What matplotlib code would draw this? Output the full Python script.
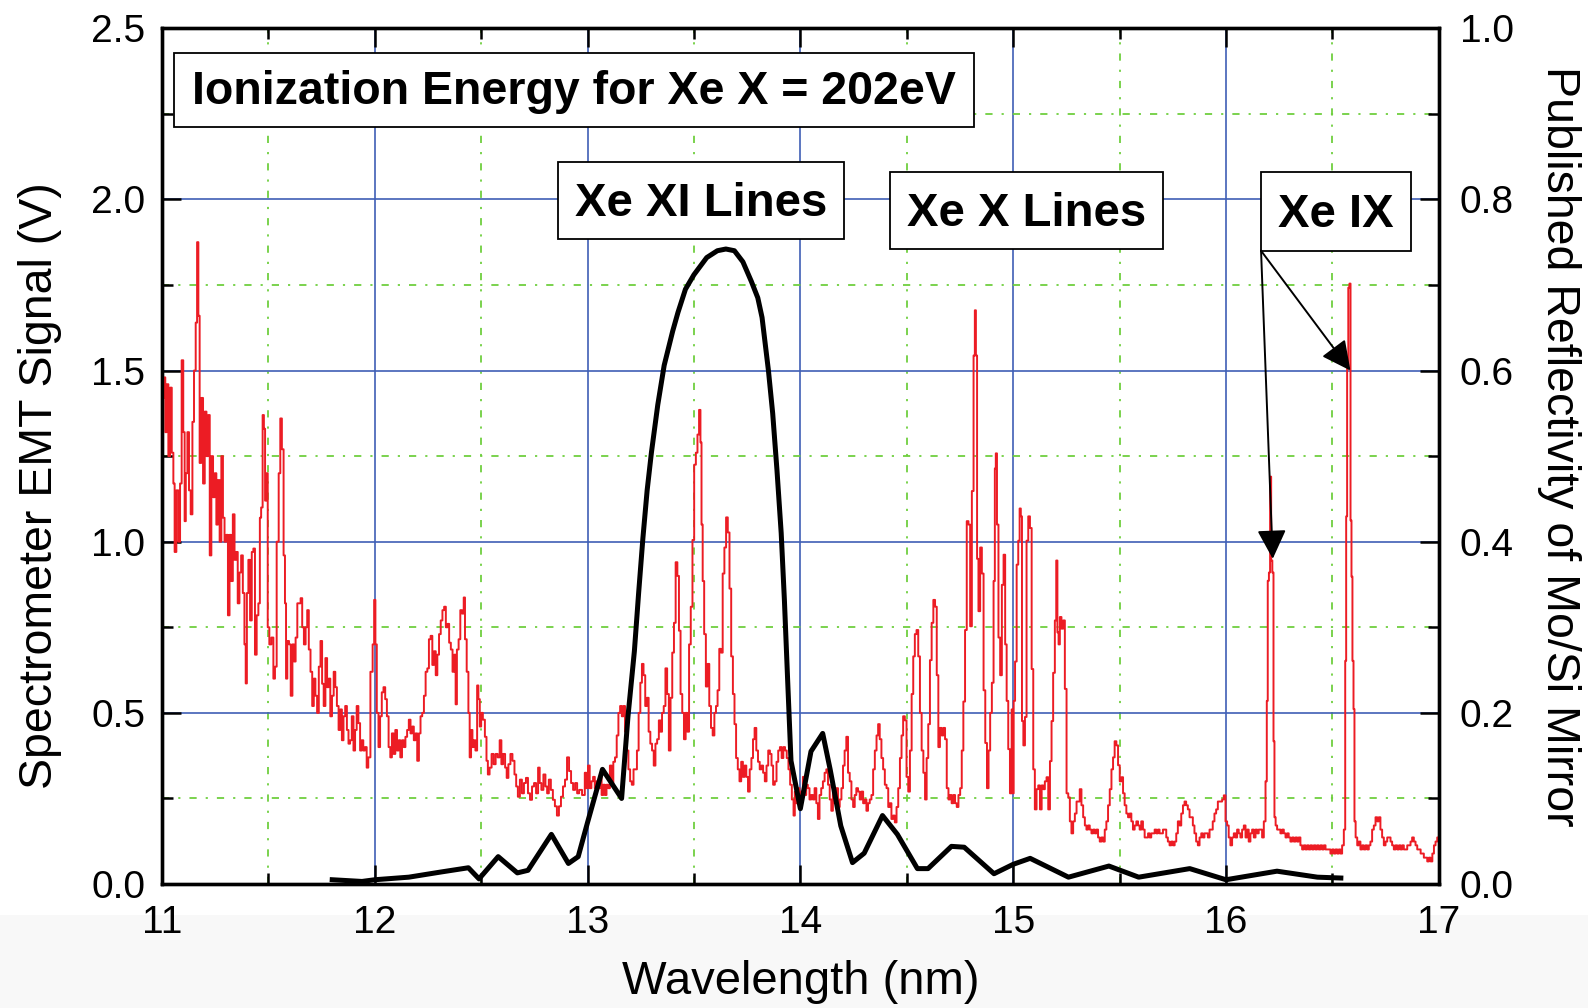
# plot.py
# EMT spectrometer signal of a xenon plasma (red, left axis) together with the
# published reflectivity of a Mo/Si mirror (black, right axis)

import numpy as np
import matplotlib.pyplot as plt
from matplotlib.patches import Rectangle

plt.rcParams['font.family'] = ['Liberation Sans Narrow', 'Liberation Sans', 'DejaVu Sans']

# ---- data ----
# spectrometer signal (V) against wavelength (nm)
red_wl = [
    11.000, 11.006, 11.012, 11.019, 11.026, 11.034, 11.042, 11.050, 11.057, 11.062, 11.073, 11.081, 11.089, 11.096,
    11.104, 11.109, 11.115, 11.124, 11.130, 11.140, 11.146, 11.155, 11.162, 11.168, 11.174, 11.180, 11.189, 11.197,
    11.205, 11.213, 11.221, 11.228, 11.236, 11.244, 11.252, 11.259, 11.267, 11.275, 11.283, 11.290, 11.298, 11.306,
    11.314, 11.321, 11.329, 11.337, 11.345, 11.352, 11.360, 11.368, 11.376, 11.384, 11.391, 11.396, 11.402, 11.410,
    11.418, 11.426, 11.433, 11.441, 11.449, 11.457, 11.463, 11.469, 11.477, 11.481, 11.488, 11.494, 11.500, 11.509,
    11.519, 11.528, 11.534, 11.544, 11.553, 11.559, 11.568, 11.575, 11.581, 11.585, 11.593, 11.601, 11.609, 11.617,
    11.624, 11.632, 11.640, 11.648, 11.655, 11.663, 11.671, 11.679, 11.686, 11.694, 11.702, 11.710, 11.717, 11.725,
    11.733, 11.741, 11.749, 11.756, 11.764, 11.772, 11.780, 11.787, 11.795, 11.803, 11.811, 11.818, 11.826, 11.834,
    11.842, 11.849, 11.857, 11.865, 11.873, 11.880, 11.888, 11.896, 11.904, 11.911, 11.919, 11.927, 11.935, 11.942,
    11.950, 11.958, 11.966, 11.973,
    11.986, 11.994, 12.000, 12.006, 12.013, 12.022, 12.028, 12.038, 12.044, 12.054, 12.060, 12.070, 12.076, 12.085,
    12.092, 12.101, 12.108, 12.117, 12.123, 12.133, 12.139, 12.149, 12.155, 12.165, 12.171, 12.180, 12.187, 12.196,
    12.203, 12.212, 12.218, 12.228, 12.234, 12.244, 12.250, 12.259, 12.266, 12.275, 12.282, 12.291, 12.297, 12.307,
    12.313, 12.323, 12.329, 12.339, 12.345, 12.354, 12.361, 12.370, 12.377, 12.383, 12.389, 12.399, 12.405, 12.415,
    12.421, 12.427, 12.437, 12.443, 12.449, 12.456, 12.462, 12.468, 12.478, 12.484, 12.490, 12.497, 12.503, 12.513,
    12.522, 12.528, 12.535, 12.544, 12.554, 12.563, 12.573, 12.582, 12.592, 12.598, 12.608, 12.617, 12.623, 12.633,
    12.642, 12.652, 12.661, 12.668, 12.677, 12.687, 12.696, 12.706, 12.715, 12.725, 12.734, 12.744, 12.753, 12.763,
    12.772, 12.778, 12.788, 12.797, 12.807, 12.813, 12.823, 12.832, 12.842, 12.851, 12.861, 12.870, 12.880, 12.889,
    12.899, 12.908, 12.918, 12.927, 12.937, 12.946, 12.956, 12.965,
    12.983, 12.991, 12.998, 13.006, 13.014, 13.022, 13.030, 13.038, 13.046, 13.054, 13.062, 13.070, 13.078, 13.085,
    13.093, 13.101, 13.109, 13.117, 13.125, 13.133, 13.141, 13.149, 13.157, 13.165, 13.172, 13.180, 13.188, 13.196,
    13.204, 13.212, 13.220, 13.228, 13.236, 13.244, 13.252, 13.259, 13.267, 13.275, 13.283, 13.291, 13.299, 13.307,
    13.315, 13.323, 13.331, 13.339, 13.346, 13.354, 13.362, 13.370, 13.378, 13.386, 13.394, 13.402, 13.410, 13.418,
    13.426, 13.433, 13.441, 13.449, 13.457, 13.465, 13.473, 13.481, 13.489, 13.497, 13.505, 13.513, 13.520, 13.528,
    13.533, 13.538, 13.544, 13.552, 13.560, 13.568, 13.576, 13.584, 13.592, 13.600, 13.607, 13.615, 13.623, 13.631,
    13.639, 13.647, 13.655, 13.663, 13.671, 13.679, 13.687, 13.694, 13.702, 13.710, 13.718, 13.726, 13.734, 13.742,
    13.750, 13.758, 13.766, 13.774, 13.781, 13.789, 13.797, 13.805, 13.813, 13.821, 13.829, 13.837, 13.845, 13.853,
    13.861, 13.868, 13.876, 13.884, 13.892, 13.900, 13.908, 13.916, 13.924, 13.932, 13.940, 13.948, 13.956, 13.964,
    13.972,
    13.976, 13.984, 13.992, 14.000, 14.008, 14.016, 14.024, 14.031, 14.039, 14.047, 14.055, 14.063, 14.071, 14.079,
    14.086, 14.094, 14.102, 14.110, 14.118, 14.126, 14.134, 14.142, 14.149, 14.157, 14.165, 14.173, 14.181, 14.189,
    14.197, 14.204, 14.212, 14.220, 14.228, 14.236, 14.244, 14.252, 14.259, 14.267, 14.275, 14.283, 14.291, 14.299,
    14.307, 14.314, 14.322, 14.330, 14.338, 14.346, 14.354, 14.362, 14.369, 14.377, 14.385, 14.393, 14.401, 14.409,
    14.417, 14.424, 14.432, 14.440, 14.448, 14.456, 14.464, 14.472, 14.479, 14.487, 14.495, 14.503, 14.511, 14.519,
    14.527, 14.534, 14.542, 14.550, 14.558, 14.566, 14.574, 14.582, 14.590, 14.597, 14.605, 14.613, 14.621, 14.629,
    14.637, 14.645, 14.652, 14.660, 14.668, 14.676, 14.684, 14.692, 14.700, 14.707, 14.715, 14.723, 14.731, 14.739,
    14.747, 14.755, 14.762, 14.770, 14.778, 14.786, 14.794, 14.802, 14.810, 14.818, 14.822, 14.828, 14.833, 14.841,
    14.849, 14.857, 14.865, 14.873, 14.881, 14.888, 14.896, 14.904, 14.912, 14.916, 14.921, 14.927, 14.935, 14.943,
    14.951, 14.959,
    14.966, 14.973, 14.981, 14.989, 14.997, 15.000, 15.005, 15.013, 15.020, 15.028, 15.033, 15.039, 15.044, 15.052,
    15.059, 15.067, 15.075, 15.083, 15.091, 15.098, 15.106, 15.114, 15.122, 15.130, 15.138, 15.145, 15.153, 15.161,
    15.169, 15.177, 15.184, 15.192, 15.200, 15.205, 15.211, 15.216, 15.223, 15.231, 15.239, 15.247, 15.255, 15.263,
    15.270, 15.278, 15.286, 15.294, 15.302, 15.309, 15.317, 15.325, 15.333, 15.341, 15.348, 15.356, 15.364, 15.372,
    15.380, 15.388, 15.395, 15.403, 15.411, 15.419, 15.427, 15.434, 15.442, 15.450, 15.458, 15.466, 15.473, 15.481,
    15.489, 15.497, 15.505, 15.513, 15.520, 15.528, 15.536, 15.544, 15.552, 15.559, 15.567, 15.575, 15.583, 15.591,
    15.598, 15.606, 15.614, 15.622, 15.630, 15.638, 15.645, 15.653, 15.661, 15.669, 15.677, 15.684, 15.692, 15.700,
    15.708, 15.716, 15.723, 15.731, 15.739, 15.747, 15.755, 15.763, 15.770, 15.778, 15.786, 15.794, 15.802, 15.809,
    15.817, 15.825, 15.833, 15.841, 15.848, 15.856, 15.864, 15.872, 15.880, 15.888, 15.895, 15.903, 15.911, 15.919,
    15.927, 15.934, 15.942, 15.950, 15.958, 15.966,
    15.978, 15.986, 15.994, 16.002, 16.009, 16.017, 16.025, 16.033, 16.041, 16.049, 16.056, 16.064, 16.072, 16.080,
    16.088, 16.096, 16.103, 16.111, 16.119, 16.127, 16.135, 16.143, 16.150, 16.158, 16.166, 16.174, 16.182, 16.190,
    16.194, 16.199, 16.205, 16.210, 16.215, 16.221, 16.226, 16.230, 16.237, 16.244, 16.252, 16.260, 16.268, 16.276,
    16.284, 16.291, 16.299, 16.307, 16.315, 16.323, 16.331, 16.338, 16.346, 16.354, 16.362, 16.370, 16.378, 16.385,
    16.393, 16.401, 16.409, 16.417, 16.425, 16.432, 16.440, 16.448, 16.456, 16.464, 16.472, 16.480, 16.487, 16.495,
    16.503, 16.511, 16.519, 16.527, 16.534, 16.542, 16.550, 16.558, 16.563, 16.567, 16.572, 16.578, 16.583, 16.588,
    16.592, 16.597, 16.602, 16.606, 16.613, 16.621, 16.628, 16.636, 16.644, 16.652, 16.660, 16.668, 16.675, 16.683,
    16.691, 16.699, 16.707, 16.715, 16.722, 16.730, 16.738, 16.746, 16.754, 16.762, 16.770, 16.777, 16.785, 16.793,
    16.801, 16.809, 16.817, 16.824, 16.832, 16.840, 16.848, 16.856, 16.864, 16.871, 16.879, 16.887, 16.895, 16.903,
    16.911, 16.919, 16.926, 16.934, 16.942, 16.950, 16.958, 16.966, 16.974, 16.981, 16.989, 16.997,
]
red_sig = [
    1.65, 1.42, 1.48, 1.32, 1.46, 1.25, 1.45, 1.26, 1.17, 0.97, 1.15, 1.00, 1.17, 1.53,
    1.32, 1.06, 1.20, 1.32, 1.15, 1.08, 1.35, 1.50, 1.64, 1.875, 1.66, 1.23, 1.42, 1.17,
    1.38, 1.25, 1.37, 0.96, 1.25, 1.13, 1.20, 1.05, 1.18, 1.00, 1.25, 1.07, 1.00, 1.02,
    0.785, 1.02, 0.885, 1.08, 0.947, 0.97, 0.82, 0.91, 0.96, 0.85, 0.70, 0.586, 0.85, 0.947,
    0.77, 0.97, 0.98, 0.67, 0.785, 0.82, 1.07, 1.10, 1.37, 1.33, 1.12, 1.20, 0.75, 0.70,
    0.72, 0.60, 0.635, 1.00, 1.20, 1.36, 1.27, 0.96, 0.82, 0.60, 0.71, 0.70, 0.55, 0.70,
    0.65, 0.72, 0.82, 0.82, 0.835, 0.75, 0.70, 0.75, 0.80, 0.685, 0.62, 0.52, 0.60, 0.55,
    0.50, 0.635, 0.71, 0.585, 0.52, 0.66, 0.575, 0.60, 0.49, 0.55, 0.62, 0.575, 0.52, 0.45,
    0.51, 0.42, 0.49, 0.52, 0.45, 0.41, 0.42, 0.49, 0.39, 0.45, 0.52, 0.47, 0.39, 0.42,
    0.39, 0.40, 0.34, 0.37,
    0.62, 0.70, 0.83, 0.70, 0.50, 0.40, 0.49, 0.56, 0.575, 0.54, 0.49, 0.40, 0.37, 0.44,
    0.38, 0.45, 0.39, 0.42, 0.37, 0.42, 0.40, 0.43, 0.45, 0.48, 0.44, 0.46, 0.42, 0.44,
    0.36, 0.44, 0.49, 0.50, 0.55, 0.62, 0.63, 0.715, 0.725, 0.64, 0.68, 0.61, 0.67, 0.73,
    0.77, 0.80, 0.81, 0.75, 0.76, 0.705, 0.685, 0.62, 0.67, 0.525, 0.685, 0.715, 0.80, 0.79,
    0.837, 0.715, 0.62, 0.50, 0.37, 0.45, 0.40, 0.42, 0.39, 0.58, 0.54, 0.46, 0.50, 0.48,
    0.43, 0.36, 0.32, 0.34, 0.38, 0.35, 0.38, 0.37, 0.42, 0.35, 0.38, 0.34, 0.31, 0.35,
    0.38, 0.36, 0.32, 0.285, 0.255, 0.305, 0.265, 0.295, 0.31, 0.265, 0.246, 0.285, 0.295, 0.265,
    0.34, 0.295, 0.275, 0.32, 0.285, 0.265, 0.305, 0.275, 0.246, 0.227, 0.20, 0.227, 0.255, 0.285,
    0.305, 0.37, 0.33, 0.295, 0.275, 0.295, 0.265, 0.275,
    0.26, 0.325, 0.28, 0.346, 0.28, 0.30, 0.313, 0.28, 0.30, 0.28, 0.313, 0.26, 0.29, 0.26,
    0.29, 0.28, 0.346, 0.29, 0.357, 0.37, 0.434, 0.50, 0.52, 0.49, 0.52, 0.445, 0.39, 0.335,
    0.30, 0.29, 0.335, 0.335, 0.39, 0.50, 0.588, 0.643, 0.61, 0.52, 0.544, 0.445, 0.41, 0.39,
    0.346, 0.41, 0.423, 0.478, 0.445, 0.50, 0.52, 0.63, 0.555, 0.39, 0.544, 0.676, 0.763, 0.94,
    0.90, 0.74, 0.555, 0.50, 0.423, 0.50, 0.445, 0.70, 0.81, 1.005, 1.225, 1.26, 1.313, 1.385,
    1.29, 1.05, 0.885, 0.73, 0.577, 0.643, 0.52, 0.456, 0.434, 0.50, 0.52, 0.566, 0.687, 0.676,
    0.907, 0.983, 1.071, 1.027, 0.863, 0.665, 0.555, 0.467, 0.368, 0.335, 0.30, 0.357, 0.313, 0.346,
    0.313, 0.27, 0.335, 0.368, 0.423, 0.456, 0.39, 0.357, 0.335, 0.346, 0.325, 0.30, 0.346, 0.39,
    0.38, 0.346, 0.29, 0.30, 0.357, 0.39, 0.40, 0.368, 0.40, 0.39, 0.368, 0.335, 0.29, 0.247,
    0.20,
    0.27, 0.236, 0.28, 0.225, 0.27, 0.313, 0.26, 0.29, 0.28, 0.247, 0.26, 0.247, 0.28, 0.236,
    0.19, 0.26, 0.28, 0.30, 0.325, 0.335, 0.29, 0.247, 0.214, 0.27, 0.236, 0.28, 0.225, 0.247,
    0.28, 0.346, 0.39, 0.43, 0.325, 0.30, 0.247, 0.225, 0.26, 0.28, 0.27, 0.247, 0.27, 0.236,
    0.247, 0.214, 0.236, 0.247, 0.26, 0.335, 0.39, 0.434, 0.467, 0.423, 0.368, 0.335, 0.29, 0.28,
    0.225, 0.236, 0.19, 0.20, 0.18, 0.225, 0.28, 0.368, 0.434, 0.49, 0.478, 0.313, 0.27, 0.39,
    0.555, 0.665, 0.73, 0.742, 0.665, 0.50, 0.39, 0.325, 0.247, 0.368, 0.467, 0.654, 0.763, 0.83,
    0.81, 0.61, 0.40, 0.456, 0.434, 0.456, 0.423, 0.28, 0.247, 0.26, 0.236, 0.26, 0.236, 0.225,
    0.26, 0.28, 0.39, 0.533, 0.742, 1.06, 1.05, 0.753, 1.148, 1.544, 1.676, 1.544, 0.95, 0.797,
    0.983, 0.907, 0.566, 0.412, 0.28, 0.39, 0.50, 0.588, 0.885, 1.214, 1.258, 1.05, 0.72, 0.61,
    0.874, 0.962,
    0.70, 0.535, 0.394, 0.265, 0.51, 0.265, 0.535, 0.65, 0.933, 1.003, 1.097, 1.074, 0.476, 0.405,
    0.488, 1.003, 1.074, 1.04, 0.628, 0.335, 0.218, 0.277, 0.288, 0.218, 0.288, 0.277, 0.30, 0.312,
    0.218, 0.359, 0.476, 0.617, 0.77, 0.945, 0.735, 0.70, 0.78, 0.746, 0.77, 0.57, 0.265, 0.253,
    0.183, 0.148, 0.183, 0.206, 0.241, 0.241, 0.277, 0.23, 0.195, 0.171, 0.159, 0.171, 0.159, 0.148,
    0.159, 0.148, 0.159, 0.136, 0.124, 0.136, 0.124, 0.159, 0.183, 0.23, 0.277, 0.335, 0.37, 0.417,
    0.405, 0.347, 0.30, 0.312, 0.265, 0.23, 0.206, 0.195, 0.206, 0.183, 0.159, 0.171, 0.183, 0.171,
    0.159, 0.183, 0.159, 0.136, 0.136, 0.148, 0.136, 0.148, 0.148, 0.159, 0.148, 0.159, 0.148, 0.148,
    0.159, 0.159, 0.136, 0.124, 0.113, 0.124, 0.113, 0.124, 0.148, 0.183, 0.171, 0.206, 0.23, 0.241,
    0.23, 0.218, 0.195, 0.195, 0.171, 0.148, 0.124, 0.113, 0.136, 0.148, 0.136, 0.148, 0.148, 0.136,
    0.159, 0.159, 0.183, 0.206, 0.218, 0.241,
    0.241, 0.247, 0.259, 0.183, 0.171, 0.136, 0.113, 0.136, 0.148, 0.136, 0.159, 0.148, 0.136, 0.159,
    0.171, 0.136, 0.159, 0.124, 0.148, 0.159, 0.136, 0.159, 0.148, 0.159, 0.159, 0.136, 0.183, 0.30,
    0.535, 0.886, 0.91, 1.19, 0.945, 0.91, 0.417, 0.195, 0.171, 0.159, 0.159, 0.148, 0.159, 0.148,
    0.136, 0.148, 0.136, 0.124, 0.136, 0.124, 0.136, 0.124, 0.136, 0.113, 0.101, 0.113, 0.101, 0.113,
    0.101, 0.113, 0.101, 0.113, 0.101, 0.113, 0.101, 0.113, 0.101, 0.113, 0.101, 0.101, 0.101, 0.089,
    0.101, 0.089, 0.101, 0.089, 0.101, 0.089, 0.113, 0.159, 0.652, 1.074, 1.507, 1.742, 1.754, 1.062,
    0.898, 0.652, 0.511, 0.183, 0.136, 0.113, 0.124, 0.101, 0.113, 0.101, 0.113, 0.101, 0.113, 0.124,
    0.159, 0.171, 0.195, 0.183, 0.195, 0.159, 0.136, 0.113, 0.124, 0.136, 0.136, 0.124, 0.113, 0.101,
    0.113, 0.101, 0.113, 0.101, 0.113, 0.101, 0.101, 0.113, 0.113, 0.124, 0.136, 0.124, 0.113, 0.101,
    0.101, 0.089, 0.089, 0.077, 0.077, 0.066, 0.077, 0.066, 0.089, 0.113, 0.124, 0.136,
]

# Mo/Si mirror reflectivity (0..1) against wavelength (nm)
refl_wl = [11.80, 11.94, 12.00, 12.16, 12.31, 12.44, 12.49, 12.58, 12.67, 12.72, 12.83, 12.91, 12.956,
           13.00, 13.07, 13.16, 13.19, 13.22, 13.24, 13.26, 13.28, 13.30, 13.33, 13.36, 13.40, 13.425,
           13.46, 13.50, 13.56, 13.61, 13.65, 13.69, 13.73, 13.77, 13.80, 13.82, 13.85, 13.87, 13.89,
           13.91, 13.925, 13.94, 13.956, 14.00, 14.05, 14.105, 14.14, 14.19, 14.245, 14.30, 14.386,
           14.456, 14.55, 14.60, 14.71, 14.77, 14.91, 15.00, 15.08, 15.26, 15.45, 15.59, 15.83, 16.00,
           16.24, 16.43, 16.54]
refl_val = [0.005, 0.003, 0.005, 0.008, 0.014, 0.019, 0.006, 0.032, 0.013, 0.016, 0.058, 0.024, 0.032,
            0.072, 0.134, 0.100, 0.196, 0.272, 0.340, 0.404, 0.460, 0.504, 0.560, 0.606, 0.646, 0.668,
            0.695, 0.712, 0.732, 0.740, 0.742, 0.740, 0.727, 0.704, 0.685, 0.662, 0.600, 0.550, 0.484,
            0.410, 0.332, 0.240, 0.144, 0.088, 0.155, 0.176, 0.134, 0.068, 0.025, 0.036, 0.080,
            0.058, 0.018, 0.018, 0.044, 0.043, 0.012, 0.023, 0.030, 0.008, 0.021, 0.008, 0.018, 0.005,
            0.015, 0.008, 0.007]

# labels in boxes
title_text = 'Ionization Energy for Xe X = 202eV'
box_texts = ['Xe XI Lines', 'Xe X Lines', 'Xe IX']
# peaks the Xe IX arrows point at (nm, V)
ix_targets = [(16.22, 0.95), (16.585, 1.50)]
ix_start = (16.165, 1.85)

# ---- figure ----
fig = plt.figure(figsize=(15.88, 10.08), dpi=100)
fig.patches.append(Rectangle((0, 0), 1, 0.092, transform=fig.transFigure,
                             facecolor='#f8f8f8', edgecolor='none', zorder=-5))
ax = fig.add_axes([0.102, 0.123, 0.804, 0.849])
ax.set_facecolor('none')
ax2 = ax.twinx()

# grid: solid blue on the major ticks, dash-dot green on the minor ones
ax.set_axisbelow(True)
ax.grid(which='major', color='#3f5fb5', lw=1.2, ls='-')
ax.grid(which='minor', color='#6fcf3f', lw=1.3, ls=(0, (4, 5, 1.2, 5)))

ax.plot(red_wl, red_sig, color='#ec1c24', lw=1.4, drawstyle='steps-mid', zorder=3)
ax2.plot(refl_wl, refl_val, color='black', lw=3.6, solid_joinstyle='round', zorder=4)

ax.set_xlim(11, 17)
ax.set_ylim(0, 2.5)
ax2.set_ylim(0, 1.0)
ax.set_xticks(np.arange(11, 17.01, 1))
ax.set_xticks(np.arange(11.5, 17, 1), minor=True)
ax.set_yticks(np.arange(0, 2.51, 0.5))
ax.set_yticks(np.arange(0.25, 2.5, 0.5), minor=True)
ax2.set_yticks(np.arange(0, 1.01, 0.2))
ax2.set_yticks(np.arange(0.1, 1.0, 0.2), minor=True)
ax.set_yticklabels(['%.1f' % v for v in np.arange(0, 2.51, 0.5)])
ax2.set_yticklabels(['%.1f' % v for v in np.arange(0, 1.01, 0.2)])

ax.tick_params(which='both', direction='in', top=True, right=False, labelsize=28, width=1.8)
ax.tick_params(which='major', length=14, pad=12)
ax.tick_params(which='minor', length=8)
ax.tick_params(axis='x', pad=15)
ax2.tick_params(which='both', direction='in', labelsize=28, width=1.8)
ax2.tick_params(which='major', length=14, pad=15)
ax2.tick_params(which='minor', length=8)
for a in (ax, ax2):
    for s in a.spines.values():
        s.set_linewidth(2.4)

ax.set_xlabel('Wavelength (nm)', fontsize=34)
ax.xaxis.set_label_coords(0.5, -0.089)
ax.set_ylabel('Spectrometer EMT Signal (V)', fontsize=33.5)
ax.yaxis.set_label_coords(-0.078, 0.465)
ax2.set_ylabel('Published Reflectivity of Mo/Si Mirror', fontsize=33.5, rotation=-90, va='bottom')
ax2.yaxis.set_label_coords(1.077, 0.512)

# boxed labels (axes-fraction rectangles)
box_pos = [(0.310, 0.754, 0.224, 0.090), (0.570, 0.742, 0.214, 0.090), (0.8606, 0.740, 0.1174, 0.092)]
r = Rectangle((0.0094, 0.885), 0.6266, 0.086, transform=ax2.transAxes, facecolor='white',
              edgecolor='black', lw=1.3, zorder=10)
ax2.add_patch(r)
ax2.text(0.0094 + 0.6266 / 2, 0.885 + 0.040, title_text, transform=ax2.transAxes, ha='center', va='center',
         fontsize=33.5, fontweight='bold', zorder=11)
for (x0, y0, w, h), t in zip(box_pos, box_texts):
    ax2.add_patch(Rectangle((x0, y0), w, h, transform=ax2.transAxes, facecolor='white',
                            edgecolor='black', lw=1.3, zorder=10))
    ax2.text(x0 + w / 2, y0 + h / 2 - 0.004, t, transform=ax2.transAxes, ha='center', va='center',
             fontsize=34, fontweight='bold', zorder=11)

# arrows from the Xe IX box to the two lines
for tx, ty in ix_targets:
    ax2.annotate('', xy=(tx, ty), xycoords=ax.transData, xytext=ix_start, textcoords=ax.transData,
                 arrowprops=dict(arrowstyle='-|>,head_length=1.0,head_width=0.5', color='black',
                                 lw=1.4, shrinkA=0, shrinkB=0, mutation_scale=18), zorder=12)

fig.savefig('out.png', dpi=100)
